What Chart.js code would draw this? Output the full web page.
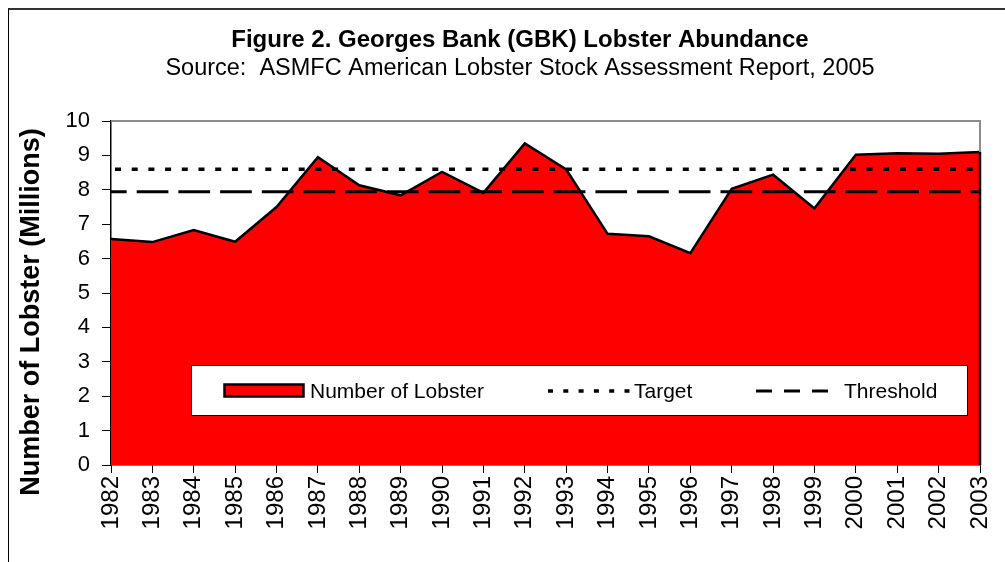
<!DOCTYPE html>
<html>
<head>
<meta charset="utf-8">
<script src="https://cdn.jsdelivr.net/npm/chart.js@4/dist/chart.umd.min.js"></script>
<style>
	html, body { margin: 0; padding: 0; background: #fff; overflow: hidden; }
	.frame {
		position: absolute; left: 8px; top: 8px; width: 1200px; height: 800px;
		border-top: 2px solid #333; border-left: 1px solid #000;
	}
	.wrap { position: absolute; left: 0; top: 0; width: 1005px; height: 562px; }
</style>
</head>
<body>
<div class="frame"></div>
<div class="wrap"><canvas id="gbk-chart" width="1005" height="562"></canvas></div>
<script>
const years = ["1982", "1983", "1984", "1985", "1986", "1987", "1988", "1989", "1990", "1991", "1992",
	"1993", "1994", "1995", "1996", "1997", "1998", "1999", "2000", "2001", "2002", "2003"];

const lobsterMillions = [6.57, 6.48, 6.83, 6.49, 7.50, 8.95, 8.13, 7.84, 8.52, 7.91, 9.35,
	8.59, 6.72, 6.65, 6.16, 8.03, 8.44, 7.46, 9.02, 9.06, 9.05, 9.10];

const targetLevel = 8.6;
const thresholdLevel = 7.94;

const yTicks = [0, 1, 2, 3, 4, 5, 6, 7, 8, 9, 10];

const yAxisTitle = "Number of Lobster (Millions)";

const FONT = "'Liberation Sans', Arial, sans-serif";

// gray plot frame on top/right, black right edge under the area
const plotFrame = {
	id: "plotFrame",
	afterDatasetsDraw(chart) {
		const { ctx, chartArea: a } = chart;
		ctx.save();
		ctx.strokeStyle = "#8c8c8c";
		ctx.lineWidth = 2;
		ctx.beginPath();
		ctx.moveTo(a.left, a.top);
		ctx.lineTo(a.right, a.top);
		ctx.lineTo(a.right, a.bottom);
		ctx.stroke();
		const pts = chart.getDatasetMeta(0).data;
		const last = pts[pts.length - 1];
		ctx.strokeStyle = "#000";
		ctx.lineWidth = 2.5;
		ctx.beginPath();
		ctx.moveTo(last.x, last.y);
		ctx.lineTo(last.x, a.bottom);
		ctx.stroke();
		ctx.restore();
	},
};

// y title sits a bit lower than the plot centre in the original
const yTitle = {
	id: "yTitle",
	afterDraw(chart) {
		const ctx = chart.ctx;
		ctx.save();
		ctx.translate(32, 312);
		ctx.rotate(-Math.PI / 2);
		ctx.fillStyle = "#000";
		ctx.font = "bold 27px " + FONT;
		ctx.textAlign = "center";
		ctx.textBaseline = "middle";
		ctx.fillText(yAxisTitle, 0, 0);
		ctx.restore();
	},
};

// boxed legend inside the plot, like the original
const boxLegend = {
	id: "boxLegend",
	afterDraw(chart) {
		const ctx = chart.ctx;
		ctx.save();
		ctx.fillStyle = "#fff";
		ctx.fillRect(191.5, 365.5, 776, 50);
		ctx.strokeStyle = "#000";
		ctx.lineWidth = 1;
		ctx.strokeRect(191.5, 365.5, 776, 50);

		ctx.fillStyle = "#ff0000";
		ctx.fillRect(224.5, 384.5, 79, 12);
		ctx.lineWidth = 2.5;
		ctx.strokeRect(224.5, 384.5, 79, 12);

		ctx.lineWidth = 3.5;
		ctx.setLineDash([5, 10.3]);
		ctx.beginPath();
		ctx.moveTo(548, 391);
		ctx.lineTo(630, 391);
		ctx.stroke();

		ctx.lineWidth = 3;
		ctx.setLineDash([16, 12]);
		ctx.beginPath();
		ctx.moveTo(756, 391);
		ctx.lineTo(831, 391);
		ctx.stroke();
		ctx.setLineDash([]);

		ctx.fillStyle = "#000";
		ctx.font = "21px " + FONT;
		ctx.textBaseline = "middle";
		ctx.fillText("Number of Lobster", 310, 392);
		ctx.fillText("Target", 634, 392);
		ctx.fillText("Threshold", 844, 392);
		ctx.restore();
	},
};

const ctx = document.getElementById("gbk-chart").getContext("2d");
new Chart(ctx, {
	type: "line",
	data: {
		labels: years,
		datasets: [
			{
				label: "Number of Lobster",
				data: lobsterMillions,
				borderColor: "#000",
				backgroundColor: "#ff0000",
				borderWidth: 2.5,
				fill: "origin",
				pointRadius: 0,
				tension: 0,
				order: 3,
			},
			{
				label: "Target",
				data: years.map(() => targetLevel),
				borderColor: "#000",
				borderWidth: 3.5,
				borderDash: [6, 10.7],
				borderDashOffset: 12.7,
				borderCapStyle: "butt",
				fill: false,
				pointRadius: 0,
				order: 1,
			},
			{
				label: "Threshold",
				data: years.map(() => thresholdLevel),
				borderColor: "#000",
				borderWidth: 3,
				borderDash: [31.7, 10],
				borderDashOffset: 16,
				borderCapStyle: "butt",
				fill: false,
				pointRadius: 0,
				order: 2,
			},
		],
	},
	options: {
		responsive: false,
		animation: false,
		layout: { padding: { left: 60, right: 25, top: 0, bottom: 0 } },
		plugins: {
			legend: { display: false },
			tooltip: { enabled: false },
			title: {
				display: true,
				text: "Figure 2. Georges Bank (GBK) Lobster Abundance",
				color: "#000",
				font: { family: FONT, size: 24, weight: "bold", lineHeight: 1.2 },
				padding: { top: 26, bottom: 0 },
			},
			subtitle: {
				display: true,
				text: "Source:  ASMFC American Lobster Stock Assessment Report, 2005",
				color: "#000",
				font: { family: FONT, size: 23.5, lineHeight: 1.2 },
				padding: { top: 0, bottom: 38 },
			},
		},
		scales: {
			x: {
				type: "category",
				offset: false,
				grid: { display: true, drawOnChartArea: false, drawTicks: true, tickLength: 8, color: "#000" },
				border: { display: true, color: "#000", width: 1.5 },
				ticks: {
					color: "#000",
					font: { family: FONT, size: 24 },
					minRotation: 90,
					maxRotation: 90,
					autoSkip: false,
					padding: 3,
				},
				afterFit(scale) {
					scale.height = 97;
					scale.paddingLeft = 0;
					scale.paddingRight = 0;
				},
			},
			y: {
				min: 0,
				max: 10,
				afterBuildTicks(scale) { scale.ticks = yTicks.map(v => ({ value: v })); },
				grid: { display: true, drawOnChartArea: false, drawTicks: true, tickLength: 9, color: "#000" },
				border: { display: true, color: "#000", width: 1.5 },
				ticks: {
					color: "#000",
					font: { family: FONT, size: 22 },
					padding: 12,
				},
				title: { display: false },
				afterFit(scale) { scale.width = 51; },
			},
		},
	},
	plugins: [plotFrame, boxLegend, yTitle],
});
</script>
</body>
</html>
